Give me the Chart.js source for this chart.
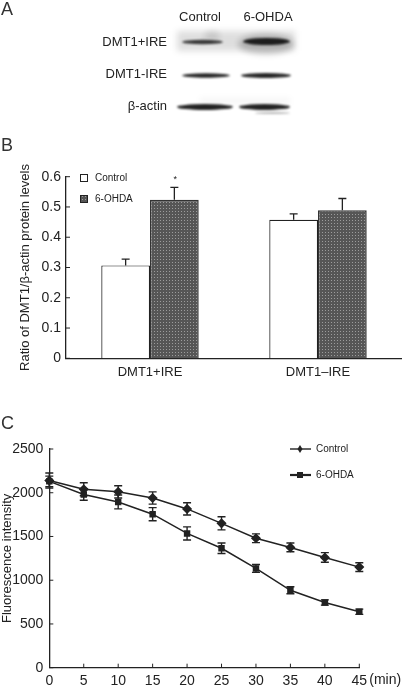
<!DOCTYPE html>
<html>
<head>
<meta charset="utf-8">
<script src="https://cdn.jsdelivr.net/npm/chart.js@4.4.1/dist/chart.umd.min.js"></script>
<style>
  body { margin: 0; background: #fff; font-family: "Liberation Sans", Arial, sans-serif; }
  #page { position: relative; width: 402px; height: 692px; overflow: hidden; }
  #page canvas { position: absolute; left: 0; }
  .panel { position: absolute; left: 1px; font-size: 18px; line-height: 1; color: #333; }
</style>
</head>
<body>
<div id="page">
  <canvas id="blot" width="402" height="130" style="top:0"></canvas>
  <canvas id="barChart" width="402" height="240" style="top:150px"></canvas>
  <canvas id="lineChart" width="402" height="272" style="top:420px"></canvas>
  <div class="panel" style="top:0">A</div>
  <div class="panel" style="top:136px">B</div>
  <div class="panel" style="top:414px">C</div>
</div>
<script>
// panel A labels
var blotLanes = ['Control', '6-OHDA'];
var blotRows = ['DMT1+IRE', 'DMT1-IRE', 'β-actin'];

// panel B: ratio of DMT1 / beta-actin
var proteinGroups = ['DMT1+IRE', 'DMT1–IRE'];
var controlRatio = [0.307, 0.458];
var controlRatioSem = [0.021, 0.019];
var ohdaRatio = [0.524, 0.489];
var ohdaRatioSem = [0.041, 0.039];
var ohdaSignificant = [true, false];

// panel C: fluorescence over time
var minutes = [0, 5, 10, 15, 20, 25, 30, 35, 40, 45];
var controlFluor = [2140, 2040, 2010, 1940, 1815, 1650, 1480, 1375, 1260, 1150];
var controlFluorSem = [85, 75, 70, 70, 70, 75, 50, 50, 55, 50];
var ohdaFluor = [2130, 1980, 1895, 1755, 1535, 1365, 1135, 885, 745, 640];
var ohdaFluorSem = [60, 65, 80, 75, 75, 60, 45, 40, 30, 30];

var FONT = '"Liberation Sans", Arial, sans-serif';
var INK = '#222';

function drawBlot() {
    var c = document.getElementById('blot').getContext('2d');
    c.fillStyle = INK;
    c.font = '13px ' + FONT;
    c.textBaseline = 'middle';
    c.textAlign = 'center';
    c.fillText(blotLanes[0], 200, 17);
    c.fillText(blotLanes[1], 268, 17);
    c.textAlign = 'right';
    c.fillText(blotRows[0], 167, 42);
    c.fillText(blotRows[1], 167, 74);
    c.fillText(blotRows[2], 167, 106);

    function band(x1, x2, y, h, a) {
        c.fillStyle = 'rgba(15,15,15,' + a + ')';
        c.beginPath();
        c.ellipse((x1 + x2) / 2, y, (x2 - x1) / 2, h / 2, 0, 0, Math.PI * 2);
        c.fill();
    }
    // smeared background of the top blot
    c.filter = 'blur(3px)';
    c.fillStyle = 'rgba(0,0,0,0.13)';
    c.fillRect(177, 31, 118, 20);
    c.fillStyle = 'rgba(0,0,0,0.22)';
    c.beginPath(); c.ellipse(266, 44, 28, 10, 0, 0, Math.PI * 2); c.fill();
    c.fillStyle = 'rgba(0,0,0,0.12)';
    c.beginPath(); c.ellipse(212, 36, 8, 5, 0, 0, Math.PI * 2); c.fill();
    c.fillStyle = 'rgba(0,0,0,0.06)';
    c.fillRect(200, 99, 90, 4);
    c.filter = 'blur(1.2px)';
    band(182, 223, 42, 4.5, 0.8);
    band(243, 290, 41.5, 7, 0.92);
    band(182, 230, 75.5, 4.5, 0.9);
    band(241, 291, 75.5, 5, 0.9);
    band(177, 233, 107, 6, 0.92);
    band(239, 290, 107, 6, 0.92);
    band(255, 290, 113, 2, 0.3);
    c.filter = 'none';
}
drawBlot();

// dotted fill of the 6-OHDA bars
var tile = document.createElement('canvas');
tile.width = 3; tile.height = 3;
var tctx = tile.getContext('2d');
tctx.fillStyle = '#565656';
tctx.fillRect(0, 0, 3, 3);
tctx.fillStyle = '#9c9c9c';
tctx.fillRect(1, 1, 1, 1);
var dots = document.getElementById('barChart').getContext('2d').createPattern(tile, 'repeat');

function innerTicks(ctx, scale, horizontal, len) {
    ctx.save();
    ctx.strokeStyle = INK;
    ctx.lineWidth = 1;
    scale.ticks.forEach(function (t, i) {
        var p = scale.getPixelForTick(i);
        ctx.beginPath();
        if (horizontal) {
            if (i === 0) return;
            ctx.moveTo(p, scale.top);
            ctx.lineTo(p, scale.top - len);
        } else {
            ctx.moveTo(scale.right, p);
            ctx.lineTo(scale.right + len, p);
        }
        ctx.stroke();
    });
    ctx.restore();
}

var barExtras = {
    id: 'barExtras',
    afterDatasetsDraw: function (chart) {
        var ctx = chart.ctx, y = chart.scales.y;
        ctx.save();
        ctx.strokeStyle = INK;
        ctx.lineWidth = 1.3;
        chart.data.datasets.forEach(function (ds, d) {
            chart.getDatasetMeta(d).data.forEach(function (bar, i) {
                var top = y.getPixelForValue(ds.data[i]);
                var end = y.getPixelForValue(ds.data[i] + ds.sem[i]);
                ctx.beginPath();
                ctx.moveTo(bar.x, top);
                ctx.lineTo(bar.x, end);
                ctx.moveTo(bar.x - 4, end);
                ctx.lineTo(bar.x + 4, end);
                ctx.stroke();
                if (ds.star && ds.star[i]) {
                    ctx.fillStyle = INK;
                    ctx.font = '9px ' + FONT;
                    ctx.textAlign = 'center';
                    ctx.fillText('*', bar.x + 1, end - 5);
                }
            });
        });
        ctx.restore();
    },
    afterDraw: function (chart) {
        var ctx = chart.ctx;
        innerTicks(ctx, chart.scales.y, false, 4);
        ctx.save();
        ctx.font = '10px ' + FONT;
        ctx.textBaseline = 'middle';
        chart.data.datasets.forEach(function (ds, d) {
            var cy = 28 + d * 21;
            ctx.fillStyle = ds.backgroundColor;
            ctx.fillRect(80, cy - 3.5, 7, 7);
            ctx.strokeStyle = INK;
            ctx.lineWidth = 1;
            ctx.strokeRect(80.5, cy - 3.5, 7, 7);
            ctx.fillStyle = INK;
            ctx.fillText(ds.label, 95, cy);
        });
        ctx.restore();
    }
};

new Chart(document.getElementById('barChart'), {
    type: 'bar',
    data: {
        labels: proteinGroups,
        datasets: [
            { label: 'Control', data: controlRatio, sem: controlRatioSem,
              backgroundColor: '#ffffff', borderColor: INK, borderWidth: 1.2 },
            { label: '6-OHDA', data: ohdaRatio, sem: ohdaRatioSem, star: ohdaSignificant,
              backgroundColor: dots, borderColor: '#333', borderWidth: 1.5 }
        ]
    },
    options: {
        responsive: false,
        animation: false,
        devicePixelRatio: 1,
        layout: { padding: { top: 26.7, right: 0, left: 0, bottom: 0 } },
        datasets: { bar: { categoryPercentage: 0.58, barPercentage: 1 } },
        plugins: { legend: { display: false }, tooltip: { enabled: false } },
        scales: {
            x: {
                grid: { display: false, drawTicks: false },
                border: { display: true, color: INK, width: 1.3 },
                ticks: { color: INK, font: { family: FONT, size: 13 }, padding: 6 },
                afterFit: function (s) { s.height = 31.7; }
            },
            y: {
                min: 0, max: 0.6,
                grid: { display: false, drawTicks: false },
                border: { display: true, color: INK, width: 1.3 },
                ticks: {
                    stepSize: 0.1, color: INK, padding: 5,
                    font: { family: FONT, size: 14 },
                    callback: function (v) { return v === 0 ? '0' : v.toFixed(1); }
                },
                title: {
                    display: true, text: 'Ratio of DMT1/β-actin protein levels',
                    color: INK, font: { family: FONT, size: 13 }, padding: { top: 18, bottom: 0 }
                },
                afterFit: function (s) { s.width = 66; }
            }
        }
    },
    plugins: [barExtras]
});

var lineExtras = {
    id: 'lineExtras',
    afterDatasetsDraw: function (chart) {
        var ctx = chart.ctx, y = chart.scales.y;
        ctx.save();
        ctx.strokeStyle = INK;
        ctx.lineWidth = 1.4;
        chart.data.datasets.forEach(function (ds, d) {
            chart.getDatasetMeta(d).data.forEach(function (pt, i) {
                var hi = y.getPixelForValue(ds.data[i] + ds.sem[i]);
                var lo = y.getPixelForValue(ds.data[i] - ds.sem[i]);
                ctx.beginPath();
                ctx.moveTo(pt.x, hi); ctx.lineTo(pt.x, lo);
                ctx.moveTo(pt.x - 4, hi); ctx.lineTo(pt.x + 4, hi);
                ctx.moveTo(pt.x - 4, lo); ctx.lineTo(pt.x + 4, lo);
                ctx.stroke();
            });
        });
        ctx.restore();
    },
    afterDraw: function (chart) {
        var ctx = chart.ctx, x = chart.scales.x;
        innerTicks(ctx, chart.scales.y, false, 4);
        innerTicks(ctx, x, true, 4);
        ctx.save();
        ctx.fillStyle = INK;
        ctx.font = '14px ' + FONT;
        ctx.textBaseline = 'middle';
        ctx.fillText('(min)', x.right + 10, x.top + 12);
        ctx.font = '10px ' + FONT;
        chart.data.datasets.forEach(function (ds, d) {
            var cy = 29 + d * 26;
            ctx.strokeStyle = INK;
            ctx.lineWidth = d === 0 ? 1.4 : 2.2;
            ctx.beginPath(); ctx.moveTo(290, cy); ctx.lineTo(311, cy); ctx.stroke();
            ctx.beginPath();
            if (ds.pointStyle === 'rectRot') {
                ctx.moveTo(300, cy - 4); ctx.lineTo(302.5, cy); ctx.lineTo(300, cy + 4); ctx.lineTo(297.5, cy);
            } else {
                ctx.rect(297, cy - 3, 6, 6);
            }
            ctx.fillStyle = INK;
            ctx.fill();
            ctx.fillText(ds.label, 316, cy);
        });
        ctx.restore();
    }
};

new Chart(document.getElementById('lineChart'), {
    type: 'line',
    data: {
        labels: minutes,
        datasets: [
            { label: 'Control', data: controlFluor, sem: controlFluorSem,
              borderColor: INK, borderWidth: 1.5, pointStyle: 'rectRot', pointRadius: 4,
              pointBackgroundColor: INK, pointBorderColor: INK, tension: 0 },
            { label: '6-OHDA', data: ohdaFluor, sem: ohdaFluorSem,
              borderColor: INK, borderWidth: 1.5, pointStyle: 'rect', pointRadius: 3.5,
              pointBackgroundColor: INK, pointBorderColor: INK, tension: 0 }
        ]
    },
    options: {
        responsive: false,
        animation: false,
        devicePixelRatio: 1,
        layout: { padding: { top: 29, right: 42.7, left: 0, bottom: 0 } },
        plugins: { legend: { display: false }, tooltip: { enabled: false } },
        scales: {
            x: {
                offset: false,
                grid: { display: false, drawTicks: false },
                border: { display: true, color: INK, width: 1.3 },
                ticks: { color: INK, font: { family: FONT, size: 14 }, padding: 5, maxRotation: 0, autoSkip: false },
                afterFit: function (s) { s.height = 24.3; }
            },
            y: {
                min: 0, max: 2500,
                grid: { display: false, drawTicks: false },
                border: { display: true, color: INK, width: 1.3 },
                ticks: {
                    stepSize: 500, color: INK, padding: 6, font: { family: FONT, size: 14 },
                    callback: function (v) { return String(v); }
                },
                title: {
                    display: true, text: 'Fluorescence intensity',
                    color: INK, font: { family: FONT, size: 13 }, padding: { top: 0, bottom: 0 }
                },
                afterFit: function (s) { s.width = 49.3; }
            }
        }
    },
    plugins: [lineExtras]
});
</script>
</body>
</html>
